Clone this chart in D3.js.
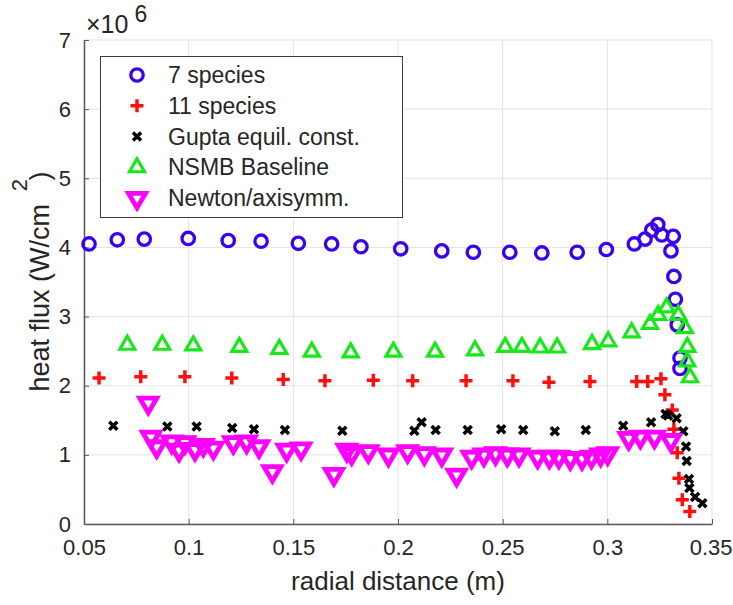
<!DOCTYPE html>
<html><head><meta charset="utf-8">
<script src="https://cdn.jsdelivr.net/npm/d3@7"></script>
<style>body{margin:0;background:#fff}svg{display:block}text{font-family:"Liberation Sans",Arial,Helvetica,sans-serif;fill:#262626}</style>
</head><body><div id="chart"></div>
<script>
// ---- data (heat flux in units of 1e6 W/cm^2) ----
const sp7X = [0.0524,0.0659,0.0788,0.0998,0.1189,0.1346,0.1524,0.1683,0.1823,0.2013,0.2209,0.2360,0.2534,0.2687,0.2856,0.2995,0.3129,0.3180,0.3212,0.3241,0.3260,0.3315,0.3304,0.3318,0.3325,0.3334,0.3347,0.3347];
const sp7Y = [4.05,4.11,4.12,4.13,4.10,4.09,4.06,4.05,4.01,3.98,3.95,3.93,3.93,3.92,3.93,3.97,4.05,4.12,4.25,4.33,4.18,4.16,3.95,3.58,3.25,2.88,2.40,2.25];
const sp11X = [0.0572,0.0771,0.0982,0.1206,0.1452,0.1651,0.1882,0.2070,0.2325,0.2549,0.2721,0.2917,0.3140,0.3193,0.3256,0.3275,0.3310,0.3318,0.3334,0.3342,0.3358,0.3394];
const sp11Y = [2.11,2.13,2.13,2.11,2.09,2.07,2.08,2.07,2.07,2.07,2.05,2.06,2.06,2.06,2.10,1.87,1.65,1.37,1.03,0.66,0.35,0.18];
const guptaX = [0.0640,0.0898,0.1038,0.1208,0.1312,0.1460,0.1734,0.2078,0.2113,0.2180,0.2333,0.2493,0.2598,0.2749,0.2897,0.3076,0.3209,0.3278,0.3290,0.3331,0.3363,0.3376,0.3379,0.3390,0.3392,0.3419,0.3454];
const guptaY = [1.42,1.41,1.41,1.39,1.37,1.36,1.35,1.35,1.47,1.36,1.36,1.37,1.36,1.34,1.36,1.42,1.47,1.59,1.57,1.53,1.34,1.12,0.91,0.65,0.52,0.39,0.30];
const nsmbX = [0.0707,0.0874,0.1022,0.1242,0.1433,0.1588,0.1774,0.1978,0.2177,0.2368,0.2512,0.2592,0.2679,0.2760,0.2927,0.3004,0.3116,0.3204,0.3243,0.3283,0.3339,0.3371,0.3382,0.3382,0.3395];
const nsmbY = [2.59,2.59,2.58,2.56,2.53,2.49,2.48,2.49,2.49,2.51,2.56,2.56,2.55,2.55,2.60,2.64,2.77,2.89,3.02,3.13,3.02,2.83,2.56,2.35,2.12];
const newtonX = [0.0807,0.0820,0.0847,0.0919,0.0954,0.0982,0.1030,0.1070,0.1118,0.1213,0.1277,0.1336,0.1400,0.1468,0.1537,0.1694,0.1755,0.1779,0.1858,0.1954,0.2046,0.2126,0.2209,0.2280,0.2352,0.2410,0.2466,0.2522,0.2578,0.2667,0.2723,0.2768,0.2823,0.2879,0.2924,0.2968,0.3002,0.3102,0.3158,0.3225,0.3303];
const newtonY = [1.75,1.26,1.12,1.19,1.07,1.18,1.08,1.14,1.10,1.18,1.19,1.12,0.76,1.07,1.09,0.72,1.07,1.02,1.05,1.00,1.05,1.02,1.00,0.71,0.97,1.00,1.02,1.00,1.00,0.97,0.97,0.97,0.95,0.95,0.97,1.00,1.02,1.24,1.26,1.26,1.21];
const xTicks = [0.05,0.1,0.15,0.2,0.25,0.3,0.35];
const xTickLabels = ["0.05","0.1","0.15","0.2","0.25","0.3","0.35"];
const yTicks = [0,1,2,3,4,5,6,7];
const seriesNames = ["7 species","11 species","Gupta equil. const.","NSMB Baseline","Newton/axisymm."];

// ---- layout ----
const W = 733, H = 605;
const m = {left:84, right:712, top:40, bottom:524};
const x = d3.scaleLinear().domain([0.05,0.35]).range([m.left,m.right]);
const y = d3.scaleLinear().domain([0,7]).range([m.bottom,m.top]);

const svg = d3.select("#chart").append("svg").attr("width",W).attr("height",H);

// grid
const grid = svg.append("g").attr("stroke","#e3e3e3").attr("stroke-width",1);
xTicks.forEach(t=>grid.append("line").attr("x1",x(t)).attr("x2",x(t)).attr("y1",m.top).attr("y2",m.bottom));
yTicks.forEach(t=>grid.append("line").attr("x1",m.left).attr("x2",m.right).attr("y1",y(t)).attr("y2",y(t)));

// axes
const xAxis = d3.axisBottom(x).tickValues(xTicks).tickFormat((d,i)=>xTickLabels[i]).tickSizeInner(-5).tickSizeOuter(0).tickPadding(15);
const gx = svg.append("g").attr("transform",`translate(0,${m.bottom})`).call(xAxis);
const yAxis = d3.axisLeft(y).tickValues(yTicks).tickFormat(d3.format("d")).tickSizeInner(-5).tickSizeOuter(0).tickPadding(13);
const gy = svg.append("g").attr("transform",`translate(${m.left},0)`).call(yAxis);
[gx,gy].forEach(g=>{
  g.select(".domain").attr("stroke","#5a5a5a").attr("stroke-width",1.5);
  g.selectAll(".tick line").attr("stroke","#5a5a5a");
  g.selectAll(".tick text").attr("font-size",22).attr("fill","#262626").style("font-family","'Liberation Sans',Arial,sans-serif");
});
gx.selectAll(".tick text").filter((d,i)=>i===xTicks.length-1).attr("text-anchor","end").attr("dx",20);

// exponent label
const ex = svg.append("text").attr("x",m.left+2).attr("y",33).attr("font-size",25);
ex.append("tspan").text("×10");
ex.append("tspan").attr("dx",6).attr("dy",-11).attr("font-size",23).text("6");

// axis labels
svg.append("text").attr("x",(m.left+m.right)/2).attr("y",590).attr("text-anchor","middle").attr("font-size",26).text("radial distance (m)");
svg.append("text").attr("transform","translate(49,204) rotate(-90)").attr("text-anchor","end").attr("font-size",27).text("heat flux (W/cm");
svg.append("text").attr("transform","translate(27,185) rotate(-90)").attr("text-anchor","middle").attr("font-size",22).text("2");
svg.append("text").attr("transform","translate(49,176) rotate(-90)").attr("text-anchor","middle").attr("font-size",27).text(")");

// marker painters
const C_BLUE="#3a00f0", C_RED="#ff1010", C_BLACK="#000", C_GREEN="#18e818", C_MAG="#ff00ff";
function circle(g,cx,cy){g.append("circle").attr("cx",cx).attr("cy",cy).attr("r",6.2).attr("fill","none").attr("stroke",C_BLUE).attr("stroke-width",3.3);}
function plus(g,cx,cy){g.append("path").attr("d",`M${cx-6.5},${cy}H${cx+6.5}M${cx},${cy-6.5}V${cy+6.5}`).attr("stroke",C_RED).attr("stroke-width",3.5).attr("fill","none");}
function cross(g,cx,cy){const s=4;g.append("path").attr("d",`M${cx-s},${cy-s}L${cx+s},${cy+s}M${cx-s},${cy+s}L${cx+s},${cy-s}`).attr("stroke",C_BLACK).attr("stroke-width",3.5).attr("fill","none");}
function triUp(g,cx,cy){const a=7.5,h=13;g.append("path").attr("d",`M${cx},${cy-h*2/3}L${cx+a},${cy+h/3}L${cx-a},${cy+h/3}Z`).attr("fill","none").attr("stroke",C_GREEN).attr("stroke-width",3.2).attr("stroke-linejoin","miter");}
function triDown(g,cx,cy){const a=8.5,h=14.5;g.append("path").attr("d",`M${cx},${cy+h*2/3}L${cx+a},${cy-h/3}L${cx-a},${cy-h/3}Z`).attr("fill","none").attr("stroke",C_MAG).attr("stroke-width",4.8).attr("stroke-linejoin","miter");}

const painters=[circle,plus,cross,triUp,triDown];
const seriesX=[sp7X,sp11X,guptaX,nsmbX,newtonX];
const seriesY=[sp7Y,sp11Y,guptaY,nsmbY,newtonY];
const marks = svg.append("g");
seriesX.forEach((xs,k)=>{
  const g = marks.append("g");
  xs.forEach((v,i)=>painters[k](g,x(v),y(seriesY[k][i])));
});

// legend
const lg = svg.append("g");
lg.append("rect").attr("x",100.5).attr("y",56.5).attr("width",302).attr("height",161).attr("fill","#fff").attr("stroke","#3c3c3c").attr("stroke-width",1);
seriesNames.forEach((nm,i)=>{
  const cy = 75 + i*30.8;
  painters[i](lg,137,cy);
  lg.append("text").attr("x",168).attr("y",cy+8).attr("font-size",23).text(nm);
});
</script></body></html>
